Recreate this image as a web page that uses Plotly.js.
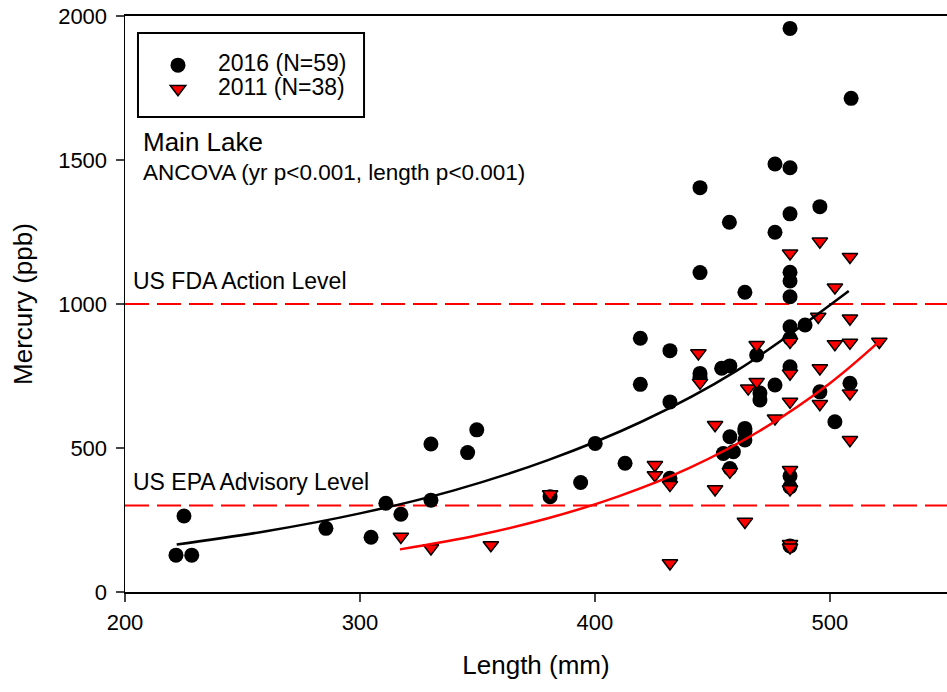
<!DOCTYPE html>
<html>
<head>
<meta charset="utf-8">
<script src="https://cdn.plot.ly/plotly-3.0.1.min.js"></script>
<style>html,body{margin:0;padding:0;background:#fff;}#chart{width:947px;height:692px;}</style>
</head>
<body>
<div id="chart"></div>
<script>
// 2016 (N=59) – black circles
const len2016 = [221.7,225.1,228.4,285.5,304.7,311.0,317.4,330.2,330.2,345.8,349.7,380.9,393.9,400.1,412.8,419.3,419.3,431.9,431.9,431.9,444.7,444.7,444.7,444.7,453.9,457.4,457.2,463.8,457.4,463.8,463.8,454.6,458.9,457.4,468.8,470.2,470.2,476.6,476.6,476.6,483,483,483,483,483,483,483,483,483,483,483,483,489.4,495.7,495.7,502.1,508.5,509.0,463.8];
const hg2016  = [128,264,128,221,190,308,270,319,514,484,563,331,380,516,447,881,721,838,660,395,1404,1109,759,745,777,785,1284,1041,539,568,528,481,487,429,823,691,667,1486,1249,719,1957,1473,1313,1110,1080,1025,921,880,782,403,365,160,927,1338,695,591,725,1714,557];

// 2011 (N=38) – red down-triangles
const len2011 = [317.4,330.2,355.7,380.9,425.5,425.5,431.9,431.9,444.0,444.7,451.1,451.1,457.4,463.8,465.2,468.8,468.8,476.6,483,483,483,483,483,483,483,495.7,495.7,495.7,495.0,502.1,502.1,508.5,508.5,508.5,508.5,508.5,521.0,483];
const hg2011  = [192,152,163,340,441,406,372,100,829,727,580,357,418,244,707,858,730,603,1176,869,759,661,424,357,167,1217,777,653,956,1058,861,1164,950,866,690,528,869,155];

// fitted curves
const fit2016x = [222,260,300,340,380,420,460,508];
const fit2016y = [165,211,273,353,458,592,767,1045];
const fit2011x = [317,350,380,410,440,470,500,521];
const fit2011y = [148,197,256,332,430,559,725,870];

// reference levels
const fdaLevel = 1000;
const epaLevel = 300;

const FONT = 'Arial, "Liberation Sans", sans-serif';

const traces = [
  {x: len2016, y: hg2016, mode: 'markers', type: 'scatter',
   name: '<span style="font-size:23px">2016 (N=59)</span>',
   marker: {symbol: 'circle', size: 15, color: '#000000'}},
  {x: len2011, y: hg2011, mode: 'markers', type: 'scatter',
   name: '<span style="font-size:23px">2011 (N=38)</span>',
   marker: {symbol: 'triangle-down', size: 13.5, color: '#ff0000', line: {color: '#000000', width: 1.5}}},
  {x: fit2016x, y: fit2016y, mode: 'lines', type: 'scatter', showlegend: false,
   line: {color: '#000000', width: 2.5, shape: 'spline'}},
  {x: fit2011x, y: fit2011y, mode: 'lines', type: 'scatter', showlegend: false,
   line: {color: '#ff0000', width: 2.5, shape: 'spline'}}
];

const layout = {
  width: 947, height: 692,
  margin: {l: 125, r: 0, t: 16, b: 100},
  paper_bgcolor: '#ffffff', plot_bgcolor: '#ffffff',
  font: {family: FONT, size: 22, color: '#000000'},
  showlegend: true,
  legend: {x: 0.0158, y: 0.944, xanchor: 'left', yanchor: 'top', bgcolor: 'rgba(0,0,0,0)',
           borderwidth: 0, itemwidth: 70, font: {family: FONT, size: 16, color: '#000'}},
  xaxis: {range: [200, 549.8], tickvals: [200,300,400,500], ticks: 'outside', ticklen: 8, tickwidth: 1.5,
          showline: true, linecolor: '#000', linewidth: 2, mirror: true, showgrid: false, zeroline: false,
          tickfont: {family: FONT, size: 22}, ticklabelstandoff: 2,
          title: {text: 'Length (mm)', font: {family: FONT, size: 26}, standoff: 21}},
  yaxis: {range: [0, 2000], tickvals: [0,500,1000,1500,2000], ticks: 'outside', ticklen: 8, tickwidth: 1.5,
          showline: true, linecolor: '#000', linewidth: 1.5, showgrid: false, zeroline: false,
          tickfont: {family: FONT, size: 22}, ticklabelstandoff: 4,
          title: {text: 'Mercury (ppb)', font: {family: FONT, size: 26}, standoff: 18}},
  shapes: [
    {type: 'line', xref: 'paper', x0: 0, x1: 1, yref: 'y', y0: fdaLevel, y1: fdaLevel,
     line: {color: '#ff0000', width: 2, dash: '24px,8px'}, layer: 'below'},
    {type: 'line', xref: 'paper', x0: 0, x1: 1, yref: 'y', y0: epaLevel, y1: epaLevel,
     line: {color: '#ff0000', width: 2, dash: '24px,8px'}, layer: 'below'},
    {type: 'rect', xref: 'paper', yref: 'paper', x0: 0.0158, x1: 0.2908, y0: 0.8247, y1: 0.9705,
     line: {color: '#000', width: 2}, fillcolor: 'rgba(0,0,0,0)'}
  ],
  annotations: [
    {xref: 'paper', yref: 'y', x: 0.0195, y: 1562, xanchor: 'left', yanchor: 'middle', showarrow: false,
     text: 'Main Lake', font: {family: FONT, size: 26}},
    {xref: 'paper', yref: 'y', x: 0.0195, y: 1458, xanchor: 'left', yanchor: 'middle', showarrow: false,
     text: 'ANCOVA (yr p<0.001, length p<0.001)', font: {family: FONT, size: 22.5}},
    {xref: 'paper', yref: 'y', x: 0.0073, y: 1080, xanchor: 'left', yanchor: 'middle', showarrow: false,
     text: 'US FDA Action Level', font: {family: FONT, size: 23}},
    {xref: 'paper', yref: 'y', x: 0.0073, y: 382, xanchor: 'left', yanchor: 'middle', showarrow: false,
     text: 'US EPA Advisory Level', font: {family: FONT, size: 23}}
  ]
};

Plotly.newPlot('chart', traces, layout, {staticPlot: true, displayModeBar: false});
</script>
</body>
</html>
